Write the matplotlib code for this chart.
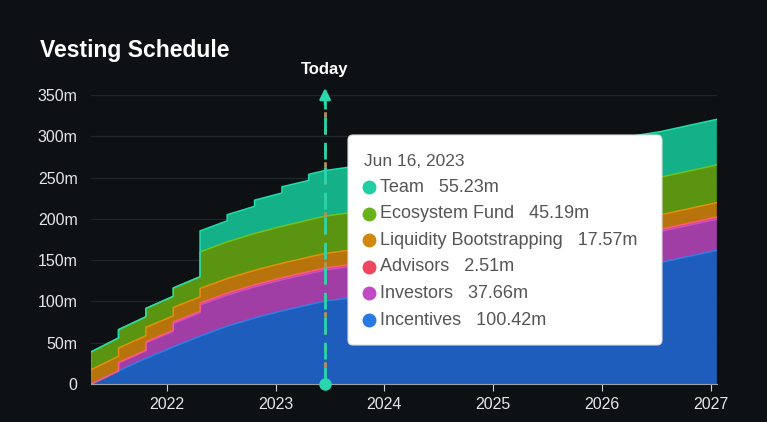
import numpy as np
import pandas as pd
import matplotlib
matplotlib.use('Agg')
import matplotlib.pyplot as plt
import matplotlib.dates as mdates
from matplotlib.patches import FancyBboxPatch
from matplotlib.ticker import FuncFormatter

plt.rcParams['font.family'] = ['Liberation Sans', 'DejaVu Sans']

# unlock dates (steps are given twice: before / after)
dates = pd.to_datetime([
    '2021-04-22',
    '2021-07-22', '2021-07-22',
    '2021-10-22', '2021-10-22',
    '2022-01-22', '2022-01-22',
    '2022-04-22', '2022-04-22',
    '2022-07-22', '2022-07-22',
    '2022-10-22', '2022-10-22',
    '2023-01-22', '2023-01-22',
    '2023-04-22', '2023-04-22',
    '2023-06-16',
    '2024-01-01',
    '2025-01-01',
    '2026-01-01',
    '2026-07-15',
    '2027-01-22',
])

# cumulative unlocked, millions
incentives = [0, 16, 16, 31, 31, 45, 45, 58, 58, 70, 70, 80, 80, 88.5, 88.5, 96, 96,
              100.42, 110, 123, 136, 147, 162]
investors = [0, 0, 9.4, 9.4, 18.8, 18.8, 28.2, 28.2, 37.66, 37.66, 37.66, 37.66, 37.66,
             37.66, 37.66, 37.66, 37.66, 37.66, 37.66, 37.66, 37.66, 37.66, 37.66]
advisors = [0, 0, 0.63, 0.63, 1.26, 1.26, 1.88, 1.88, 2.51, 2.51, 2.51, 2.51, 2.51,
            2.51, 2.51, 2.51, 2.51, 2.51, 2.51, 2.51, 2.51, 2.51, 2.51]
liquidity = [17.57] * 23
ecosystem = [21.5, 22.2, 22.2, 22.9, 22.9, 23.6, 23.6, 24.3, 44.2, 44.4, 44.4, 44.6, 44.6,
             44.8, 44.8, 45.0, 45.0, 45.19, 45.6, 45.6, 45.6, 45.6, 45.6]
team = [0, 0, 0, 0, 0, 0, 0, 0, 25.5, 25.5, 32.9, 32.9, 40.3, 40.3, 47.8, 47.8, 55.23,
        55.23, 55.23, 55.23, 55.23, 55.23, 55.23]

names = ['Incentives', 'Investors', 'Advisors', 'Liquidity Bootstrapping',
         'Ecosystem Fund', 'Team']
fills = ['#1f5dbd', '#a13ea5', '#e0455f', '#b8740c', '#5a9410', '#14b088']
edges = ['#2f7fe6', '#c452c8', '#ff5c7a', '#e58f0a', '#74c21c', '#22dcaa']
dots = ['#2a78e4', '#c24ac4', '#f0455f', '#d08810', '#6ab21c', '#1fcfa3']

today = pd.Timestamp('2023-06-16')
today_idx = 17
year_ticks = pd.to_datetime(['2022-01-01', '2023-01-01', '2024-01-01',
                             '2025-01-01', '2026-01-01', '2027-01-01'])

bg = '#0d1114'
fig = plt.figure(figsize=(7.67, 4.22), dpi=100, facecolor=bg)
ax = fig.add_axes([0.1192, 0.0900, 0.8154, 0.6848])
ax.set_facecolor(bg)

series = [incentives, investors, advisors, liquidity, ecosystem, team]
ax.stackplot(dates, *series, colors=fills, linewidth=0)
tops = np.cumsum(np.array(series), axis=0)
for top, c in zip(tops, edges):
    ax.plot(dates, top, color=c, lw=1.1)
ax.plot([dates[0], dates[0]], [0, tops[-1][0]], color=edges[4], lw=1.1)

ax.set_xlim(dates[0], dates[-1])
ax.set_ylim(0, 350)
ax.set_yticks(np.arange(0, 351, 50))
ax.yaxis.set_major_formatter(FuncFormatter(lambda v, p: '0' if v == 0 else f'{int(v)}m'))
ax.set_xticks(year_ticks)
ax.xaxis.set_major_formatter(mdates.DateFormatter('%Y'))
ax.grid(axis='y', color='#1f252b', lw=1)
ax.set_axisbelow(True)
for s in ['top', 'right', 'left']:
    ax.spines[s].set_visible(False)
ax.spines['bottom'].set_color('#9aa0a6')
ax.tick_params(axis='y', length=0, colors='#e6e6e6', labelsize=11.5, pad=10)
ax.tick_params(axis='x', length=5, color='#d0d0d0', colors='#e6e6e6', labelsize=11.5, pad=4)

# today marker
ax.plot([today, today], [0, 345], color='#b3955a', lw=2, dashes=(2, 4), clip_on=False, zorder=5)
ax.plot([today, today], [0, 345], color='#2ad6ac', lw=2, dashes=(6, 3), clip_on=False, zorder=6)
ax.annotate('', xy=(today, 362), xytext=(today, 335),
            arrowprops=dict(arrowstyle='-|>', color='#2ad6ac', lw=2, mutation_scale=16),
            annotation_clip=False, zorder=7)
ax.plot([today], [0], 'o', color='#2ad6ac', ms=8, clip_on=False, zorder=7)
ax.text(today, 381, 'Today', color='white', fontsize=12, fontweight='bold',
        ha='center', va='center')

fig.text(40 / 767, 1 - 50 / 422, 'Vesting Schedule', color='white', fontsize=16.5,
         fontweight='bold', ha='left', va='center')

# tooltip
box = FancyBboxPatch((3.48, 0.77), 3.14, 2.10, boxstyle='round,pad=0,rounding_size=0.05',
                     transform=fig.dpi_scale_trans, facecolor='white', edgecolor='#dddddd',
                     lw=0.8, zorder=10)
fig.add_artist(box)
fig.text(364 / 767, 1 - 161 / 422, today.strftime('%b %d, %Y').replace(' 0', ' '),
         color='#555555', fontsize=12.5, ha='left', va='center', zorder=11)
row_y = 187
for i in range(5, -1, -1):
    val = series[i][today_idx]
    y = 1 - row_y / 422
    fig.lines.append(plt.Line2D([369 / 767], [y], marker='o', ms=9, color=dots[i],
                                transform=fig.transFigure, zorder=11))
    fig.text(380 / 767, y, f'{names[i]}   {val:.2f}m', color='#555555', fontsize=13,
             ha='left', va='center', zorder=11)
    row_y += 26.6

fig.savefig('out.png', dpi=100, facecolor=bg)
